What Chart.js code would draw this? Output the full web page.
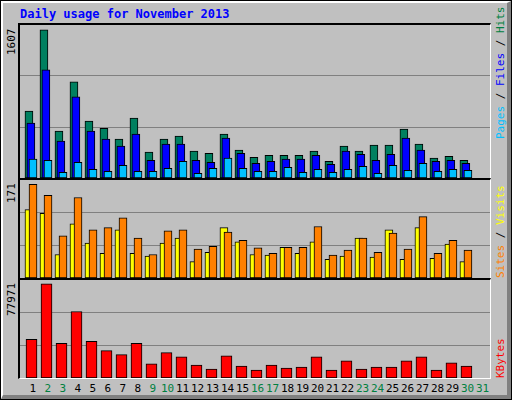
<!DOCTYPE html>
<html><head><meta charset="utf-8">
<script src="https://cdn.jsdelivr.net/npm/chart.js@4/dist/chart.umd.min.js"></script>
<style>
body{margin:0;width:512px;height:400px;overflow:hidden;background:#fff}
#frame{position:absolute;left:0;top:0;width:510px;height:398px;background:#c0c0c0;border:1px solid #000}
#frame:before{content:"";position:absolute;left:0;top:0;right:0;bottom:0;border-left:2px solid #fff;border-top:2px solid #fff;border-right:4px solid #808080;border-bottom:4px solid #808080}
.box{position:absolute;border-left:2px solid #000;border-top:2px solid #000;border-right:1px solid #fff;border-bottom:1px solid #fff}
.t{position:absolute;font-family:"DejaVu Sans Mono",monospace;font-size:11px;white-space:nowrap}
.rv{position:absolute;transform-origin:0 0;transform:rotate(-90deg);font-family:"DejaVu Sans Mono",monospace;font-size:11px;line-height:12px;white-space:nowrap}
canvas{display:block}
</style></head><body>
<div id="frame"></div>
<div class="t" style="left:20px;top:7px;color:#0000ff;font-weight:bold;font-size:12px">Daily usage for November 2013</div>
<div class="box" style="left:18px;top:23px"><canvas id="c1" width="470" height="153"></canvas></div>
<div class="box" style="left:18px;top:178px"><canvas id="c2" width="470" height="98"></canvas></div>
<div class="box" style="left:18px;top:278px"><canvas id="c3" width="470" height="98"></canvas></div>
<div class="rv" style="left:6px;top:55px">1607</div>
<div class="rv" style="left:6px;top:203px">171</div>
<div class="rv" style="left:6px;top:316px">77971</div>
<div class="rv" style="left:495px;top:139px"><span style="color:#00c0ff">Pages</span> / <span style="color:#0000ff">Files</span> / <span style="color:#008040">Hits</span></div>
<div class="rv" style="left:495px;top:278px"><span style="color:#ff8000">Sites</span> / <span style="color:#ffff00">Visits</span></div>
<div class="rv" style="left:495px;top:378px"><span style="color:#ff0000">KBytes</span></div>
<div id="days"></div>
<script>
const days=[1,2,3,4,5,6,7,8,9,10,11,12,13,14,15,16,17,18,19,20,21,22,23,24,25,26,27,28,29,30,31];
const weekend=[2,3,9,10,16,17,23,24,30,31];
const hits=[727,1607,509,1044,618,538,422,651,280,422,454,291,269,476,302,225,247,247,247,291,182,345,291,356,356,531,367,215,236,193];
const files=[596,1174,400,880,509,422,345,476,193,367,367,193,171,433,269,160,182,204,204,247,149,291,258,193,258,433,302,182,193,160];
const pages=[204,193,62,171,95,73,138,73,73,105,182,51,105,215,105,73,73,116,62,95,62,95,127,51,138,84,160,73,95,84];
const visits=[125,118,43,99,64,45,88,45,40,64,73,30,47,92,66,43,42,56,45,66,34,40,73,38,88,34,92,36,62,30];
const sites=[171,151,77,147,88,92,110,73,43,86,88,53,58,84,69,55,45,56,56,94,42,51,73,47,82,53,112,45,69,51];
const kbytes=[32037,77971,28634,55000,30335,22680,19278,28634,11624,20979,17577,10773,7371,18428,9923,6521,10773,8222,9072,17577,6521,14175,7371,9072,9072,14175,17577,6521,12474,9923];

const dd=document.getElementById('days');
days.forEach(d=>{const s=document.createElement('div');s.className='t';s.textContent=d;
 s.style.color=weekend.includes(d)?'#008040':'#000';
 s.style.left=(33+(d-1)*15-(d<10?3.5:7))+'px';s.style.top='382px';dd.appendChild(s);});

function pts(arr,off){return arr.map((v,i)=>({x:days[i]+off,y:v}));}
function ds(arr,off,color,w,order){return {data:pts(arr,off),backgroundColor:color,borderColor:'#000',borderWidth:1,barThickness:w,grouped:false,order:order,borderSkipped:false};}
function mk(id,datasets,ymax){
 new Chart(document.getElementById(id),{type:'bar',data:{datasets},
  options:{responsive:false,animation:false,devicePixelRatio:1,layout:{padding:0},
   plugins:{legend:{display:false},tooltip:{enabled:false}},
   scales:{x:{type:'linear',offset:false,min:0.133,max:31.47,display:false},
    y:{min:0,max:ymax,border:{display:false},ticks:{display:false},
     afterBuildTicks:a=>{a.ticks=[{value:ymax/3},{value:ymax*2/3}];},
     grid:{color:'#808080',lineWidth:1,drawTicks:false}}}}});
}
mk('c1',[ds(hits,-0.27,'#008060',8,3),ds(files,-0.14,'#0000ff',8,2),ds(pages,0,'#00c0ff',8,1)],1660);
mk('c2',[ds(visits,-0.27,'#ffff00',8,2),ds(sites,0,'#ff8000',8,1)],179);
mk('c3',[ds(kbytes,-0.1,'#ff0000',11,1)],81100);
</script></body></html>
